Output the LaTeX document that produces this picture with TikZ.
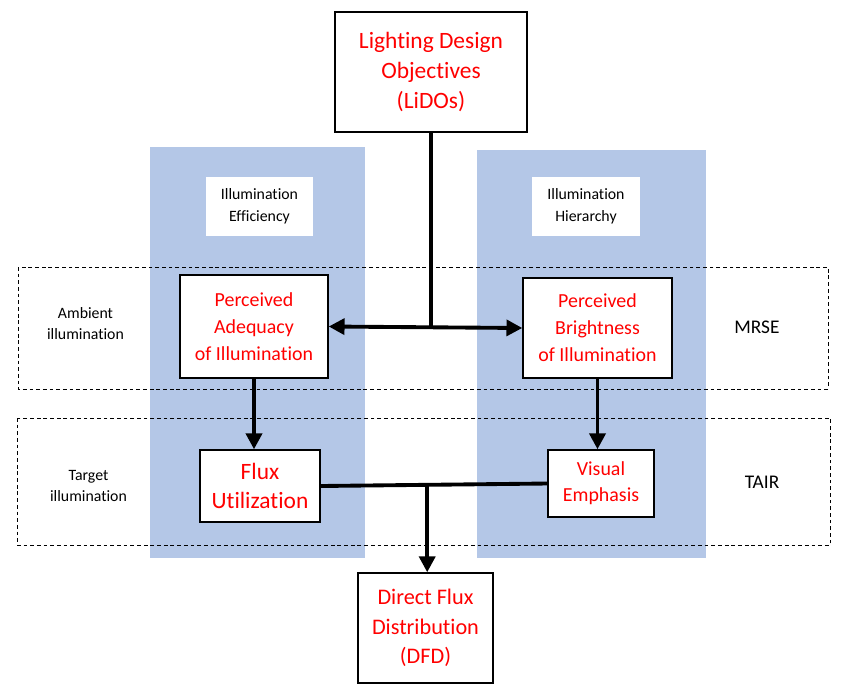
\documentclass[tikz,border=0pt]{standalone}
\usepackage{fontspec}
\setmainfont{Carlito}[Ligatures=NoCommon]
\usepackage{tikz}
\usetikzlibrary{arrows.meta}
\definecolor{colblue}{RGB}{180,199,231}
\tikzset{>={Triangle[width=13.5pt,length=13.5pt]}}
\tikzset{
  redbox/.style={draw=black,line width=1.2pt,fill=white,text=red,align=center,
    inner sep=0pt,font=\fontsize{17}{23}\selectfont},
  tagbox/.style={fill=white,align=center,inner sep=0pt,
    font=\fontsize{13.5}{18.7}\selectfont},
  sidelabel/.style={align=center,font=\fontsize{13.5}{18}\selectfont},
  codelabel/.style={font=\fontsize{16.5}{18}\selectfont},
  band/.style={dash pattern=on 3.2pt off 2.5pt,line width=0.8pt},
  flow/.style={line width=3.3pt}
}
\begin{document}
\begin{tikzpicture}[x=0.03cm,y=-0.03cm]
    \useasboundingbox (0,0) rectangle (850,695);
    \fill[colblue] (150,147) rectangle (365,558);
    \fill[colblue] (477,150) rectangle (706,558);
    \draw[band] (18,267) rectangle (828,389);
    \draw[band] (17,418) rectangle (830,545);
    \node[tagbox,minimum width=107*0.3mm,minimum height=59*0.3mm] (eff) at (259.5,206.5) {Illumination\\Efficiency};
    \node[tagbox,minimum width=108*0.3mm,minimum height=59*0.3mm] (hier) at (586,206.5) {Illumination\\Hierarchy};
    \node[sidelabel] (amb) at (85.5,324) {Ambient\\illumination};
    \node[sidelabel] (tgt) at (88.5,486) {Target\\illumination};
    \node[codelabel] (mrse) at (757,327) {MRSE};
    \node[codelabel] (tair) at (762,482) {TAIR};
    \node[redbox,minimum width=192*0.3mm,minimum height=120*0.3mm,
      font=\fontsize{20}{25.5}\selectfont] (lido) at (431,72) {Lighting Design\\Objectives\\(LiDOs)};
    \node[redbox,minimum width=148*0.3mm,minimum height=103*0.3mm] (adeq) at (254,326.5) {Perceived\\Adequacy\\of Illumination};
    \node[redbox,minimum width=149*0.3mm,minimum height=100*0.3mm] (bright) at (597.5,328) {Perceived\\Brightness\\of Illumination};
    \node[redbox,minimum width=120*0.3mm,minimum height=72*0.3mm,
      font=\fontsize{20}{24.5}\selectfont] (flux) at (260,486) {Flux\\Utilization};
    \node[redbox,minimum width=106*0.3mm,minimum height=67*0.3mm,
      font=\fontsize{17}{22}\selectfont] (emph) at (601,483.5) {Visual\\Emphasis};
    \node[redbox,minimum width=135*0.3mm,minimum height=110*0.3mm,
      font=\fontsize{19}{25}\selectfont] (dfd) at (425.5,628) {Direct Flux\\Distribution\\(DFD)};
    \draw[flow,<->] (adeq.east) -- (bright.west);
    \draw[flow] (lido.south) -- (lido.south |- adeq.east);
    \draw[flow,->] (adeq.south) -- (adeq.south |- flux.north);
    \draw[flow,->] (bright.south) -- (bright.south |- emph.north);
    \draw[flow] (flux.east) -- coordinate[pos=0.47] (join) (emph.west);
    \draw[flow,->] (join) -- (join |- dfd.north);
\end{tikzpicture}
\end{document}
